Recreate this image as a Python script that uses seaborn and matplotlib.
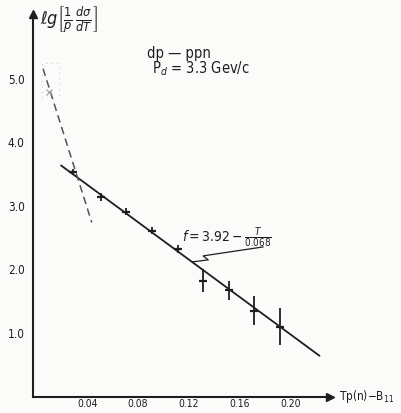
import numpy as np
import pandas as pd
import matplotlib
matplotlib.use("Agg")
import matplotlib.pyplot as plt
import seaborn as sns

# dados (dp -> ppn, Pd = 3.3 GeV/c)
t_vals = [0.0285, 0.0506, 0.0703, 0.0911, 0.1114, 0.1310, 0.1518, 0.1715, 0.1915]
lg_vals = [3.53, 3.14, 2.91, 2.61, 2.32, 1.82, 1.67, 1.35, 1.10]
lg_err = [0.05, 0.06, 0.06, 0.06, 0.06, 0.18, 0.15, 0.23, 0.29]

# reta ajustada f = 3.92 - T/0.068
fit_a = 3.92
fit_b = 0.068
fit_t = [0.0193, 0.223]

# reta tracejada (regiao de T pequeno)
dash_t = [0.0051, 0.0435]
dash_lg = [5.16, 2.74]

x_ticks = [0.04, 0.08, 0.12, 0.16, 0.20]
x_labels = ["0.04", "0.08", "0.12", "0.16", "0.20"]
y_ticks = [1.0, 2.0, 3.0, 4.0, 5.0]
y_labels = ["1.0", "2.0", "3.0", "4.0", "5.0"]

df = pd.DataFrame({"T": t_vals, "lg": lg_vals, "err": lg_err})
df_fit = pd.DataFrame({"T": fit_t})
df_fit["f"] = fit_a - df_fit["T"] / fit_b

sns.set_style("white")
plt.rcParams["font.family"] = ["DejaVu Sans"]
plt.rcParams["font.stretch"] = "condensed"
plt.rcParams["mathtext.fontset"] = "dejavusans"

ink = "#1e1e1e"
W, H = 402, 413
fig = plt.figure(figsize=(W / 100, H / 100), dpi=100)
fig.patch.set_facecolor("#fbfbf9")
ax = fig.add_axes([33 / W, 16.5 / H, 1 - 33 / W, 1 - 16.5 / H])
ax.set_facecolor("#fbfbf9")

ax.set_xlim(-0.0028, 0.288)
ax.set_ylim(0, 6.24)

sns.lineplot(data=df_fit, x="T", y="f", ax=ax, color=ink, lw=1.3)
sns.lineplot(x=dash_t, y=dash_lg, ax=ax, color="#555555", lw=1.1,
             linestyle=(0, (5, 3)))
ax.errorbar(df["T"], df["lg"], yerr=df["err"], fmt="none", ecolor=ink,
            elinewidth=1.3, capsize=0)
sns.scatterplot(data=df, x="T", y="lg", ax=ax, marker="_", s=30,
                color=ink, linewidth=1.6)

# marca fraca no canto superior
ax.plot([0.010], [4.80], marker="x", ms=4, color="#999999", mew=0.8)
ax.plot([0.004, 0.004, 0.018, 0.018], [4.70, 5.25, 5.25, 4.70],
        ls=(0, (1, 4)), color="#cccccc", lw=0.8)

# eixos com setas
for s in ["top", "right"]:
    ax.spines[s].set_visible(False)
ax.spines["left"].set_bounds(0, 6.02)
ax.spines["bottom"].set_bounds(-0.0028, 0.2315)
for s in ["left", "bottom"]:
    ax.spines[s].set_color(ink)
    ax.spines[s].set_linewidth(1.5)
ax.plot([-0.0028], [6.02], marker="^", ms=6, color=ink, clip_on=False)
ax.plot([0.2315], [0.0], marker=">", ms=6, color=ink, clip_on=False)

ax.set_xticks(x_ticks)
ax.set_xticklabels(x_labels)
ax.set_yticks(y_ticks)
ax.set_yticklabels(y_labels)
ax.tick_params(axis="both", direction="in", length=4, width=1.2, color=ink,
               labelsize=8.5, labelcolor=ink)
ax.tick_params(axis="y", pad=6)
ax.tick_params(axis="x", pad=1.5, labelsize=7.5)
ax.set_xlabel("")
ax.set_ylabel("")

ax.text(0.238, 0.0, r"Tp(n)$-$B$_{11}$", fontsize=8.5, color=ink,
        va="center", ha="left")
ax.text(0.003, 5.93, r"$\ell g\left[\frac{1}{p}\,\frac{d\sigma}{dT}\right]$",
        fontsize=13, color=ink, va="center", ha="left")
ax.text(0.087, 5.40, "dp — ppn", fontsize=10.5, color=ink, va="center")
ax.text(0.091, 5.16, r"P$_d$ = 3.3 Gev/c", fontsize=10.5, color=ink, va="center")
ax.text(0.115, 2.50, r"$f=3.92-\frac{T}{0.068}$", fontsize=10, color=ink,
        va="center")

# ponteiro em zigue-zague ate a reta
ax.plot([0.1786, 0.1313, 0.1353, 0.1226], [2.354, 2.213, 2.150, 2.118],
        color=ink, lw=0.9)

fig.savefig("out.png", dpi=100, facecolor=fig.get_facecolor())
